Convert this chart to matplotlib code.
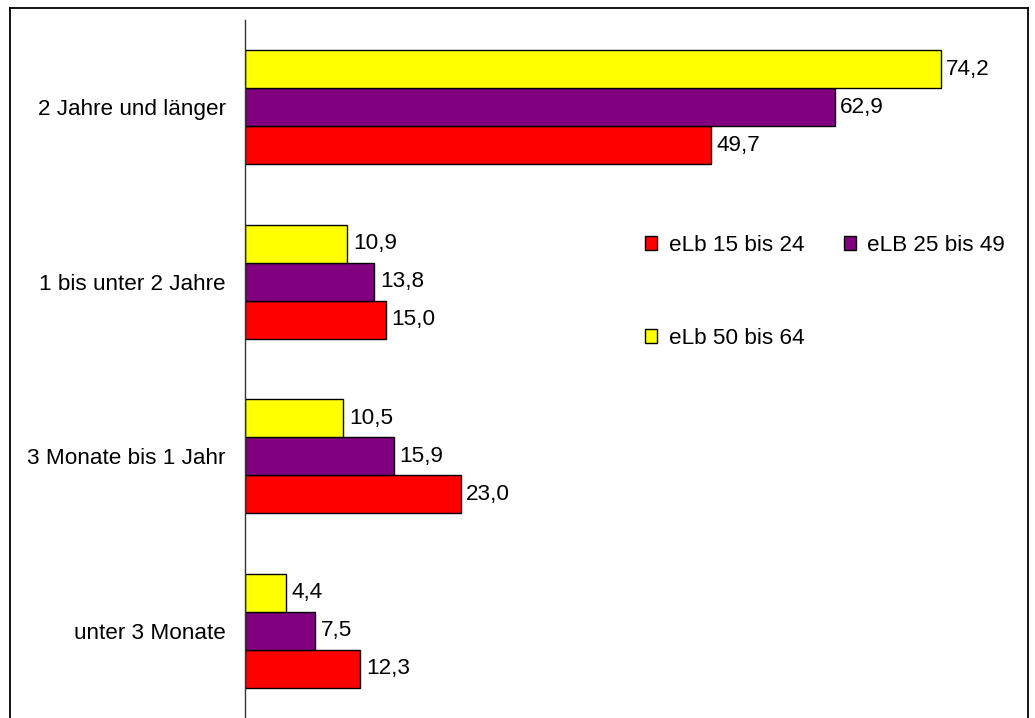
import matplotlib.pyplot as plt
from matplotlib.lines import Line2D
from matplotlib.patches import Patch
import numpy as np

plt.rcParams['font.family'] = ['Liberation Sans', 'DejaVu Sans']

categories = ["2 Jahre und länger", "1 bis unter 2 Jahre",
              "3 Monate bis 1 Jahr", "unter 3 Monate"]
elb_15_24 = [49.7, 15.0, 23.0, 12.3]
elb_25_49 = [62.9, 13.8, 15.9, 7.5]
elb_50_64 = [74.2, 10.9, 10.5, 4.4]

series = [("eLb 15 bis 24", elb_15_24, "#ff0000"),
          ("eLB 25 bis 49", elb_25_49, "#800080"),
          ("eLb 50 bis 64", elb_50_64, "#ffff00")]

FS = 16.2

fig = plt.figure(figsize=(10.35, 7.18), dpi=100)
ax = fig.add_axes([245 / 1035, 0.0, 750 / 1035, 698 / 718])

y = np.arange(len(categories))[::-1].astype(float)
h = 0.218
offsets = [-h, 0.0, h]  # red at the bottom, yellow on top

for (label, vals, col), off in zip(series, offsets):
    bars = ax.barh(y + off, vals, height=h, color=col, edgecolor="black",
                   linewidth=1.0, label=label)
    for b, v in zip(bars, vals):
        ax.text(b.get_width() + 0.6, b.get_y() + b.get_height() / 2,
                f"{v:.1f}".replace(".", ","), va="center", ha="left",
                fontsize=FS)

ax.set_xlim(0, 80)
ax.set_ylim(-0.5, 3.5)
ax.set_yticks(y)
ax.set_yticklabels(categories, fontsize=FS)
ax.tick_params(axis="y", length=0, pad=14)
ax.set_xticks([])
for s in ["top", "right", "bottom"]:
    ax.spines[s].set_visible(False)
ax.spines["left"].set_color("#333333")
ax.spines["left"].set_linewidth(1.0)

handles = [Patch(facecolor=c, edgecolor="black", linewidth=1.0, label=l)
           for l, _, c in [series[0], series[2], series[1]]]
fig.legend(handles=handles, ncol=2, loc="upper left",
           bbox_to_anchor=(645 / 1035, 1 - 235 / 718), frameon=False,
           fontsize=FS, handlelength=0.55, handleheight=0.55,
           handletextpad=0.5, labelspacing=3.2, columnspacing=1.75,
           borderpad=0, borderaxespad=0)

# outer frame
fx0, fx1, fy1 = 9.5 / 1035, 1027.5 / 1035, 1 - 7.5 / 718
for xs, ys in [([fx0, fx0], [0, fy1]), ([fx0, fx1], [fy1, fy1]),
               ([fx1, fx1], [fy1, 0])]:
    fig.add_artist(Line2D(xs, ys, color="black", linewidth=1.3,
                          transform=fig.transFigure))

fig.savefig("out.png", dpi=100)
